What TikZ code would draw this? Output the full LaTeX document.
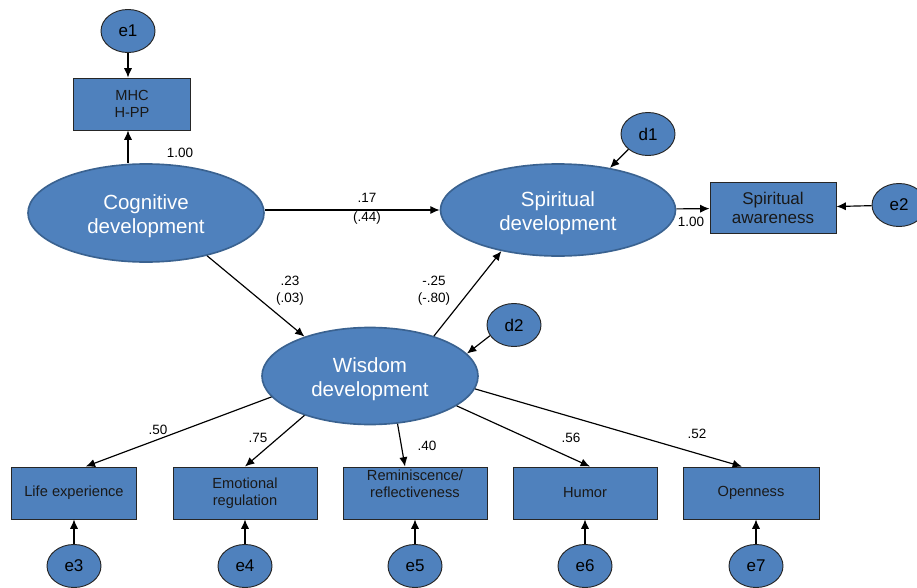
\documentclass[tikz,border=0pt]{standalone}
\usepackage{fontspec}
\setmainfont{Liberation Sans}
\usepackage{xcolor}
\usetikzlibrary{shapes.geometric,arrows.meta}
\definecolor{semblue}{HTML}{4F81BD}
\definecolor{semline}{HTML}{3A6290}
\definecolor{boxline}{HTML}{262626}

\begin{document}
\begin{tikzpicture}[x=0.03cm,y=-0.03cm,
  latent/.style={ellipse,draw=semline,line width=1.4pt,fill=semblue,text=white,inner sep=0pt,align=center,
                 font=\fontsize{17.5}{20.5}\selectfont},
  resid/.style={ellipse,draw=boxline,line width=0.8pt,fill=semblue,inner sep=0pt,
                minimum width=1.62cm,minimum height=1.29cm,font=\fontsize{14.5}{17}\selectfont},
  obs/.style={rectangle,draw=boxline,line width=0.8pt,fill=semblue,text=black!90,align=center,inner sep=0pt,
              minimum height=1.56cm,font=\fontsize{12.5}{14.5}\selectfont},
  path/.style={-{Latex[length=8pt,width=7pt]},line width=1pt},
  coef/.style={align=center,inner sep=0pt,font=\fontsize{11.5}{14.5}\selectfont}]
\useasboundingbox (0,0) rectangle (917,588);

\node [latent,minimum width=7.08cm,minimum height=2.94cm] (cog) at (146,213) {\\[-2.5pt]Cognitive\\development};
\node [latent,minimum width=7.05cm,minimum height=2.76cm] (spir) at (558,210) {\\[-2.5pt]Spiritual\\development};
\node [latent,minimum width=6.48cm,minimum height=2.91cm] (wis) at (370,376) {\\[-2.5pt]Wisdom\\development};

\node [obs,minimum width=3.51cm] (mhc) at (132,104) {MHC\\H-PP};
\node [obs,minimum width=3.78cm,minimum height=1.53cm,font=\fontsize{14.5}{16.5}\selectfont] (sa) at (773,208) {Spiritual\\awareness};
\node [obs,minimum width=3.75cm] (life) at (74,493) {Life experience};
\node [obs,minimum width=4.32cm] (emo) at (245,493) {Emotional\\regulation};
\node [obs,minimum width=4.32cm] (rem) at (415,493) {Reminiscence/\\reflectiveness\\[2pt]};
\node [obs,minimum width=4.32cm] (hum) at (585,493) {Humor};
\node [obs,minimum width=4.08cm] (open) at (751,493) {Openness};

\node [resid] (e1) at (128,31) {e1};
\node [resid] (e2) at (899,205) {e2};
\node [resid] (d1) at (648,134) {d1};
\node [resid] (d2) at (514,325) {d2};
\node [resid] (e3) at (74,566) {e3};
\node [resid] (e4) at (245,566) {e4};
\node [resid] (e5) at (415,566) {e5};
\node [resid] (e6) at (585,566) {e6};
\node [resid] (e7) at (756,566) {e7};

\draw [path] (e1) -- (e1 |- mhc.north);
\draw [path] (cog.north -| e1) -- (e1 |- mhc.south);
\draw [path] (cog.east |- spir) -- (spir);
\draw [path] (spir) -- (sa);
\draw [path] (e2) -- (sa);
\draw [path] (d1.218) -- (spir.39);
\draw [path] (cog.-35) -- (wis.149);
\draw [path] (wis.32) -- (spir.216);
\draw [path] (d2.204) -- (wis.13);

\draw [path] (wis.192) -- ([xshift=0.35cm]life.north);
\draw [path] (wis.211) -- (emo.north);
\draw [path] (wis.300) -- ([xshift=-0.3cm]rem.north);
\draw [path] (wis.341) -- ([xshift=0.15cm]hum.north);
\draw [path] (wis.353) -- ([xshift=-0.27cm]open.north);

\draw [path] (e3) -- (life);
\draw [path] (e4) -- (emo);
\draw [path] (e5) -- (rem);
\draw [path] (e6) -- (hum);
\draw [path] (e7) -- (e7 |- open.south);

\node [coef] (c1) at (180,153) {1.00};
\node [coef,font=\fontsize{11.5}{16}\selectfont] (c2) at (367,209) {.17\\(.44)};
\node [coef] (c3) at (691,222) {1.00};
\node [coef] (c4) at (290,291) {.23\\(.03)};
\node [coef] (c5) at (434,291) {-.25\\(-.80)};
\node [coef] (c6) at (158,430) {.50};
\node [coef] (c7) at (258,438) {.75};
\node [coef] (c8) at (427,446) {.40};
\node [coef] (c9) at (571,438) {.56};
\node [coef] (c10) at (697,434) {.52};
\end{tikzpicture}
\end{document}
